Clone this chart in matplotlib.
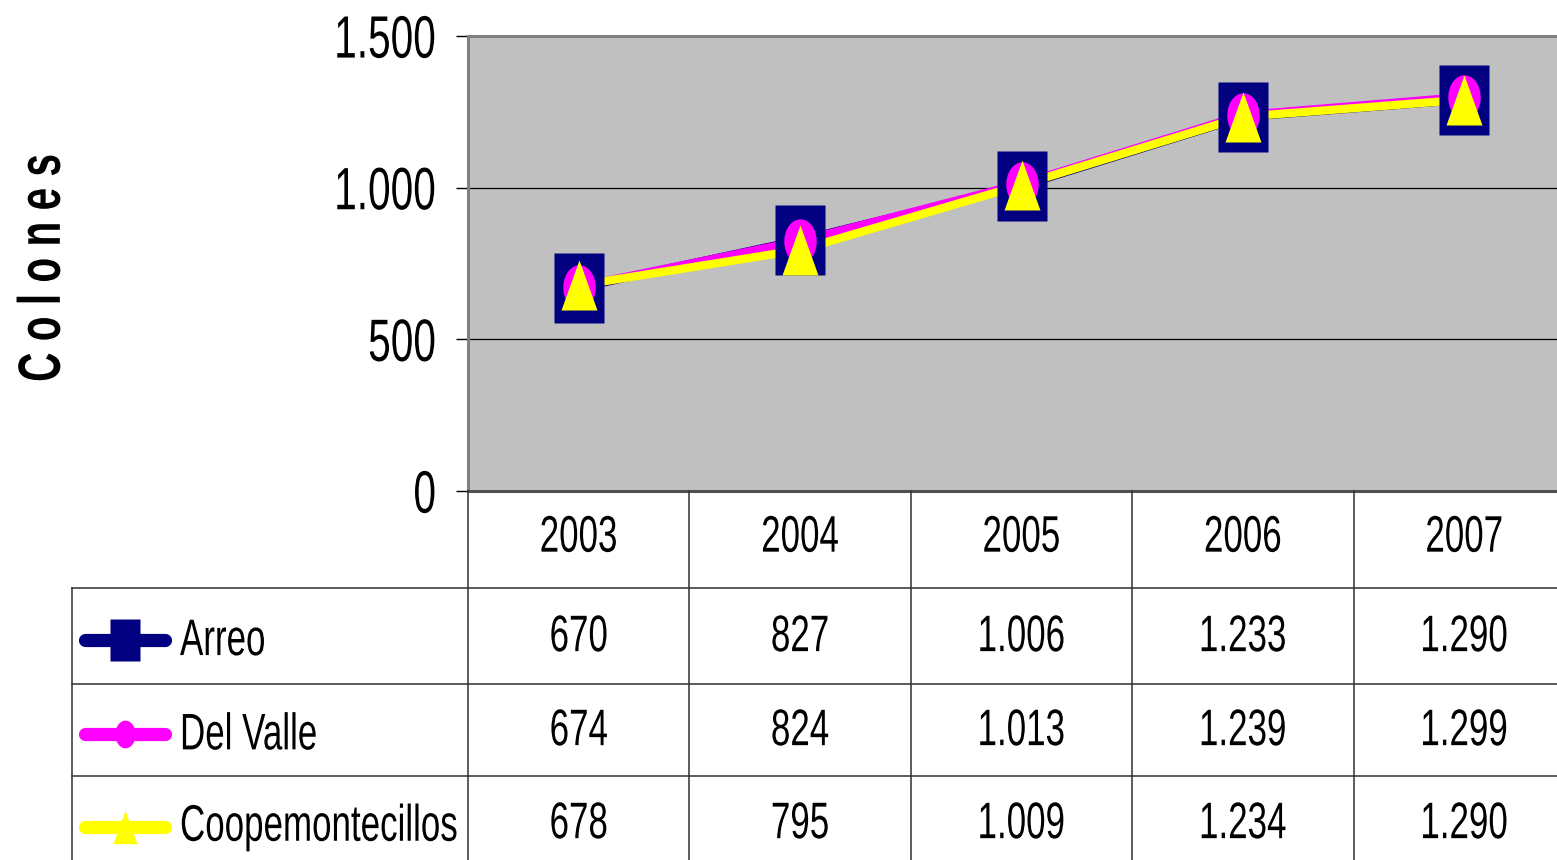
import matplotlib
matplotlib.use("Agg")
import numpy as np
import matplotlib.pyplot as plt
from matplotlib.patheffects import AbstractPathEffect
from matplotlib.transforms import Affine2D, blended_transform_factory

years = ["2003", "2004", "2005", "2006", "2007"]
series_names = ["Arreo", "Del Valle", "Coopemontecillos"]
arreo = [670, 827, 1006, 1233, 1290]
del_valle = [674, 824, 1013, 1239, 1299]
coope = [678, 795, 1009, 1234, 1290]
y_ticks = [0, 500, 1000, 1500]
y_tick_labels = ["0", "500", "1.000", "1.500"]

colors = ["#000080", "#FF00FF", "#FFFF00"]

# tall shapes (the original chart was squeezed sideways)
rect = [(-0.71, -1), (0.71, -1), (0.71, 1), (-0.71, 1), (-0.71, -1)]
tri = [(0, 1), (0.72, -1), (-0.72, -1), (0, 1)]
t = np.linspace(0, 2 * np.pi, 40)
ell = list(zip(0.73 * np.cos(t), np.sin(t)))
markers = [rect, ell, tri]
msizes = [50, 32, 36]
key_msizes = [30, 20, 24]

NARROW = 0.68  # width/height ratio of the narrow font in the original


class Tall(AbstractPathEffect):
    """Stretch glyphs across the text direction, so text looks like Arial Narrow."""

    def __init__(self, factor=1 / NARROW, axis="y"):
        super().__init__()
        self.factor = factor
        self.axis = axis

    def draw_path(self, renderer, gc, tpath, affine, rgbFace=None):
        ext = tpath.get_extents(affine)
        if self.axis == "y":
            c = (ext.y0 + ext.y1) / 2
            st = Affine2D().translate(0, -c).scale(1, self.factor).translate(0, c)
        else:
            c = (ext.x0 + ext.x1) / 2
            st = Affine2D().translate(-c, 0).scale(self.factor, 1).translate(c, 0)
        renderer.draw_path(gc, tpath, affine + st, rgbFace)


def fmt(v):
    return f"{v:,}".replace(",", ".")


def main():
    plt.rcParams["font.family"] = ["Liberation Sans", "DejaVu Sans"]

    W, H = 1557, 860
    fig = plt.figure(figsize=(W / 100, H / 100), dpi=100)
    fig.patch.set_facecolor("white")

    tick_fs = 43 * NARROW
    cell_fs = 37 * NARROW
    ylab_fs = 43 * NARROW

    # -----------------------
    # Plot area
    # -----------------------
    left, right, top, bottom = 468, 1575, 36, 491
    ax = fig.add_axes([left / W, 1 - bottom / H, (right - left) / W, (bottom - top) / H])
    ax.set_facecolor("#C0C0C0")
    ax.set_xlim(-0.5, 4.5)
    ax.set_ylim(0, 1500)

    for s in ax.spines.values():
        s.set_color("#808080")
        s.set_linewidth(2.2)
    ax.spines["bottom"].set_color("#505050")

    ax.set_yticks(y_ticks)
    ax.set_yticklabels(y_tick_labels, fontsize=tick_fs)
    for lbl in ax.get_yticklabels():
        lbl.set_path_effects([Tall()])
    ax.tick_params(axis="y", length=9, width=1, color="black", pad=14)
    ax.set_xticks([])
    for v in y_ticks[1:-1]:
        ax.axhline(v, color="black", lw=0.9, zorder=1)

    x = list(range(len(years)))
    data = [arreo, del_valle, coope]
    for i, vals in enumerate(data):
        ax.plot(x, vals, color=colors[i], lw=6, zorder=2, solid_capstyle="butt")
    for i, vals in enumerate(data):
        ax.plot(x, vals, ls="none", marker=markers[i], ms=msizes[i],
                mfc=colors[i], mec="none", zorder=3 + i)

    fig.text(42 / W, 1 - 268 / H, "C o l o n e s", rotation=90, fontsize=ylab_fs,
             fontweight="bold", ha="center", va="center",
             path_effects=[Tall(axis="x")])

    # -----------------------
    # Data table
    # -----------------------
    tr = blended_transform_factory(ax.transData, fig.transFigure)
    x_table_left = -0.5 - (left - 72) / ((right - left) / 5)
    rows = [491, 588, 684, 776, 870]

    def fy(p):
        return 1 - p / H

    line_kw = dict(color="#303030", lw=1.1, transform=tr, clip_on=False)
    for b in [i - 0.5 for i in range(len(years) + 1)]:
        fig.add_artist(plt.Line2D([b, b], [fy(rows[0]), fy(rows[-1])], **line_kw))
    fig.add_artist(plt.Line2D([x_table_left, x_table_left], [fy(rows[1]), fy(rows[-1])], **line_kw))
    for r in rows[1:-1]:
        fig.add_artist(plt.Line2D([x_table_left, 4.5], [fy(r), fy(r)], **line_kw))

    hdr_y = fy((rows[0] + rows[1]) / 2) + 3 / H
    for i, yr in enumerate(years):
        fig.text(i, hdr_y, yr, transform=tr, ha="center", va="center", fontsize=cell_fs,
                 path_effects=[Tall()])

    key_x0 = 85 / W
    key_x1 = 165 / W
    for r, vals in enumerate(data):
        cy = fy((rows[r + 1] + rows[r + 2]) / 2)
        for i, v in enumerate(vals):
            fig.text(i, cy, fmt(v), transform=tr, ha="center", va="center", fontsize=cell_fs,
                     path_effects=[Tall()])
        ky = cy - 4 / H
        fig.add_artist(plt.Line2D([key_x0, key_x1], [ky, ky], color=colors[r], lw=9.5,
                                  solid_capstyle="round", transform=fig.transFigure))
        fig.add_artist(plt.Line2D([(key_x0 + key_x1) / 2], [ky], ls="none",
                                  marker=markers[r], ms=key_msizes[r], mfc=colors[r],
                                  mec="none", transform=fig.transFigure))
        fig.text(180 / W, ky, series_names[r], ha="left", va="center", fontsize=cell_fs,
                 path_effects=[Tall()])

    fig.savefig("out.png", dpi=100)


if __name__ == "__main__":
    main()
